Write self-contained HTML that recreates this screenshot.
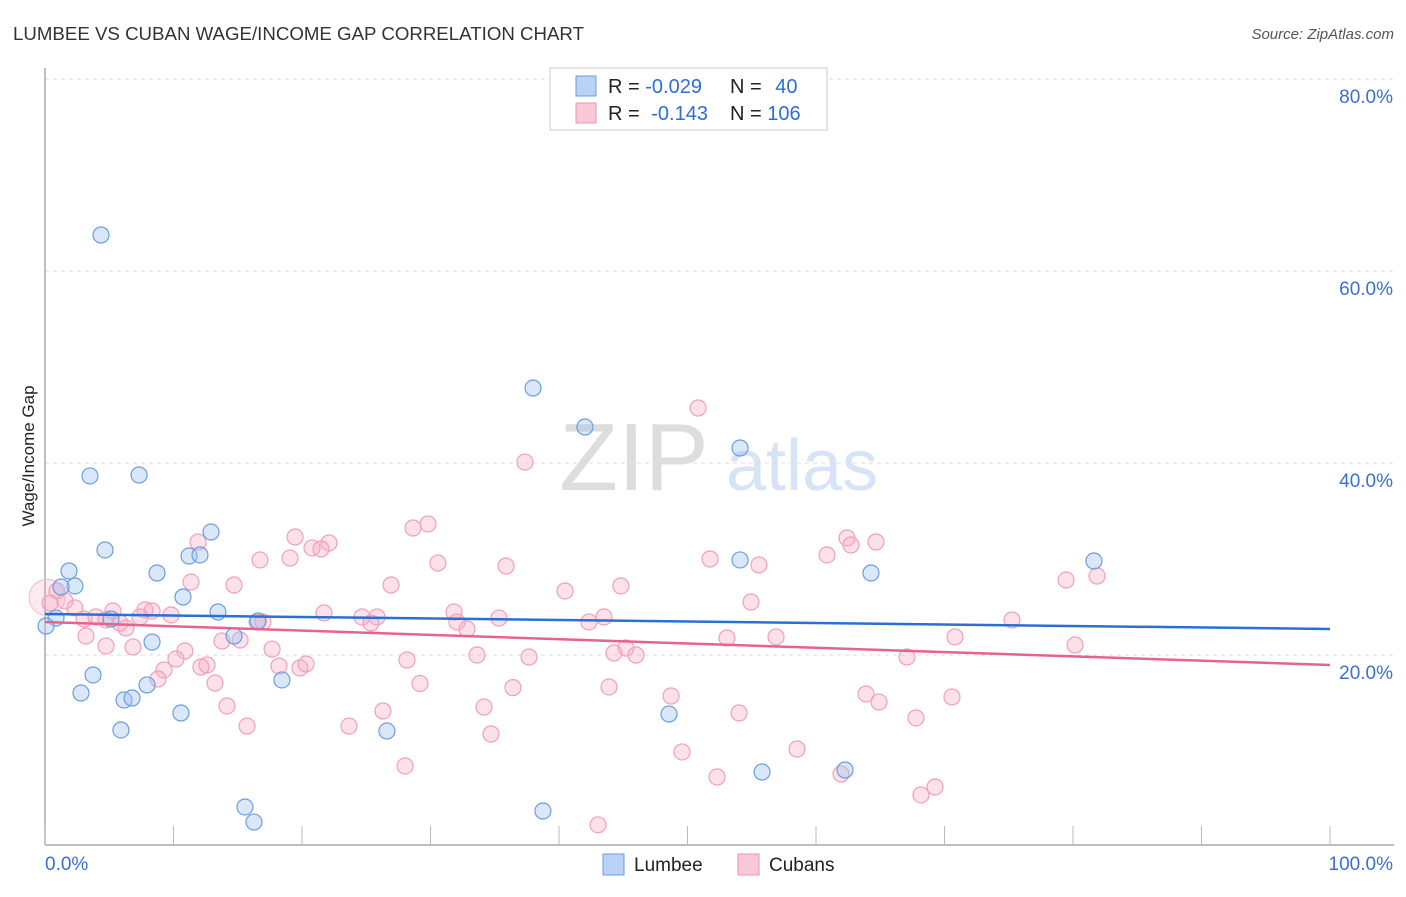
<!DOCTYPE html>
<html><head><meta charset="utf-8"><style>
body{margin:0;background:#fff;font-family:"Liberation Sans",sans-serif;}
svg text{font-family:"Liberation Sans",sans-serif;}
</style></head><body>
<svg width="1406" height="892" xmlns="http://www.w3.org/2000/svg">
<text x="13" y="40" font-size="18" fill="#333" textLength="571" lengthAdjust="spacingAndGlyphs">LUMBEE VS CUBAN WAGE/INCOME GAP CORRELATION CHART</text>
<text x="1394" y="39" font-size="15" fill="#555" font-style="italic" text-anchor="end">Source: ZipAtlas.com</text>
<text x="634" y="490" font-size="96" fill="#ddd" font-family="Liberation Serif" text-anchor="middle">ZIP</text>
<text x="802" y="490" font-size="72" fill="#d6e4f5" text-anchor="middle">atlas</text>
<g id="grid"></g>
<g id="axes"></g>
<g id="marks"></g>
<text x="34" y="456" font-size="17" fill="#222" text-anchor="middle" transform="rotate(-90 34 456)">Wage/Income Gap</text>
<g>
<rect x="550" y="68" width="277" height="62" fill="#fff" stroke="#ccc"/>
<rect x="576" y="76" width="20" height="20" fill="#b8d3f5" stroke="#6a9ee0"/>
<rect x="576" y="103" width="20" height="20" fill="#f9c7d6" stroke="#ec93ae"/>
<text x="608" y="93" font-size="20" fill="#222">R = <tspan fill="#2b6fd6">-0.029</tspan></text>
<text x="730" y="93" font-size="20" fill="#222">N = <tspan fill="#2b6fd6" dx="8">40</tspan></text>
<text x="608" y="120" font-size="20" fill="#222">R = <tspan fill="#2b6fd6" dx="6">-0.143</tspan></text>
<text x="730" y="120" font-size="20" fill="#222">N = <tspan fill="#2b6fd6">106</tspan></text>
</g>
<g>
<rect x="603" y="854" width="21" height="21" fill="#b8d3f5" stroke="#6a9ee0"/>
<text x="634" y="871" font-size="19" fill="#222">Lumbee</text>
<rect x="738" y="854" width="21" height="21" fill="#f9c7d6" stroke="#ec93ae"/>
<text x="769" y="871" font-size="19" fill="#222">Cubans</text>
</g>
</svg>
<script>
const yTicks=[20,40,60,80];
const yTickLabels=["20.0%","40.0%","60.0%","80.0%"];
const xTickVals=[0,10,20,30,40,50,60,70,80,90,100];
const lumbeeX=[4.36,37.98,42.02,54.09,3.50,7.32,12.92,4.67,11.21,12.06,54.09,81.63,1.87,2.33,1.25,8.72,64.28,10.74,13.46,0.86,0.08,16.58,5.14,14.71,8.33,3.74,18.44,7.94,2.80,6.15,6.77,10.58,48.56,5.91,26.61,55.80,62.26,15.56,16.26,38.75];
const lumbeeY=[63.75,47.81,43.75,41.56,38.65,38.75,32.81,30.94,30.31,30.42,29.90,29.79,28.75,27.19,27.08,28.54,28.54,26.04,24.48,23.85,23.02,23.54,23.75,21.98,21.35,17.92,17.40,16.88,16.04,15.31,15.52,13.96,13.85,12.19,12.08,7.81,8.02,4.17,2.60,3.75];
const cubansX=[0.16,50.82,37.35,29.81,28.64,19.46,22.10,20.78,21.48,11.91,51.75,64.67,62.41,62.72,60.86,16.73,19.07,30.58,35.88,55.56,81.87,79.46,11.36,14.71,26.93,44.82,40.47,0.93,0.39,1.56,2.33,5.29,7.78,8.33,9.81,7.39,21.71,31.83,35.33,43.50,54.94,75.25,24.67,25.84,25.37,32.06,32.84,42.33,16.50,16.96,3.04,3.97,4.75,5.84,6.30,3.19,4.75,6.85,13.77,15.18,45.21,45.99,44.28,53.07,56.89,70.82,80.16,17.67,10.89,10.19,12.61,12.14,19.84,20.31,18.21,9.26,8.79,13.23,28.17,33.62,37.67,67.08,29.18,36.42,43.89,48.72,63.89,64.90,70.58,14.16,34.16,54.01,67.78,23.66,15.72,26.30,34.71,49.57,58.52,28.02,52.30,61.95,69.26,68.17,43.04];
const cubansY=[26.0,45.73,40.10,33.65,33.23,32.29,31.67,31.15,31.04,31.77,30.00,31.77,32.19,31.46,30.42,29.90,30.10,29.58,29.27,29.38,28.23,27.81,27.60,27.29,27.29,27.19,26.67,26.67,25.42,25.63,24.90,24.58,24.69,24.58,24.17,23.96,24.38,24.48,23.85,23.96,25.52,23.65,23.96,23.96,23.33,23.44,22.71,23.44,23.44,23.44,23.75,23.96,23.65,23.33,22.81,21.98,20.94,20.83,21.46,21.56,20.73,20.00,20.21,21.77,21.88,21.88,21.04,20.62,20.42,19.58,18.96,18.75,18.65,19.06,18.85,18.44,17.50,17.08,19.48,20.00,19.79,19.79,17.03,16.60,16.67,15.73,15.94,15.10,15.63,14.69,14.58,13.96,13.44,12.60,12.60,14.17,11.77,9.90,10.21,8.44,7.29,7.60,6.25,5.42,2.31];
const cubansSize=[18];
const trendLumbee=[24.27,22.71];
const trendCubans=[23.44,18.96];
const NS="http://www.w3.org/2000/svg";
const X=v=>45+v*12.85, Y=v=>847-v*9.6;
function mk(tag,attrs,parent){const e=document.createElementNS(NS,tag);for(const k in attrs)e.setAttribute(k,attrs[k]);document.getElementById(parent).appendChild(e);return e;}
yTicks.forEach((t,i)=>{
 const g=mk('line',{x1:45,x2:1394,y1:Y(t),y2:Y(t),stroke:'#ddd','stroke-dasharray':'4,4'},'grid');
 
 
 const l=mk('text',{x:1393,y:Y(t)+24,'font-size':19,fill:'#3a70d0','text-anchor':'end'},'grid');
 l.textContent=yTickLabels[i];
 
 
});
const ya=mk('line',{x1:45,x2:45,y1:68,y2:845,stroke:'#aaa','stroke-width':1.5},'axes');


const xa=mk('line',{x1:45,x2:1394,y1:845,y2:845,stroke:'#aaa','stroke-width':1.5},'axes');


xTickVals.forEach(t=>{
 const tk=mk('line',{x1:X(t),x2:X(t),y1:826,y2:845,stroke:'#bbb'},'axes');
 
 
});
const xl0=mk('text',{x:45,y:870,'font-size':19,fill:'#3a70d0'},'axes');xl0.textContent='0.0%';


const xl1=mk('text',{x:1393,y:870,'font-size':19,fill:'#3a70d0','text-anchor':'end'},'axes');xl1.textContent='100.0%';


cubansX.forEach((v,i)=>{
 const big=cubansSize[i];
 const c=mk('circle',{cx:X(v),cy:Y(cubansY[i]),r:big||8,fill:big?'rgba(246,170,195,0.25)':'rgba(246,170,195,0.35)',stroke:big?'#f6c0d0':'#f0a0b8','stroke-width':1.2},'marks');
 
 
});
lumbeeX.forEach((v,i)=>{
 const c=mk('circle',{cx:X(v),cy:Y(lumbeeY[i]),r:8,fill:'rgba(160,195,240,0.4)',stroke:'#6a9ee0','stroke-width':1.2},'marks');
 
 
});
const tc=mk('line',{x1:X(0),x2:X(100),y1:Y(trendCubans[0]),y2:Y(trendCubans[1]),stroke:'#e8628f','stroke-width':2.5},'marks');


const tl=mk('line',{x1:X(0),x2:X(100),y1:Y(trendLumbee[0]),y2:Y(trendLumbee[1]),stroke:'#2a6fd4','stroke-width':2.5},'marks');


</script>
</body></html>
